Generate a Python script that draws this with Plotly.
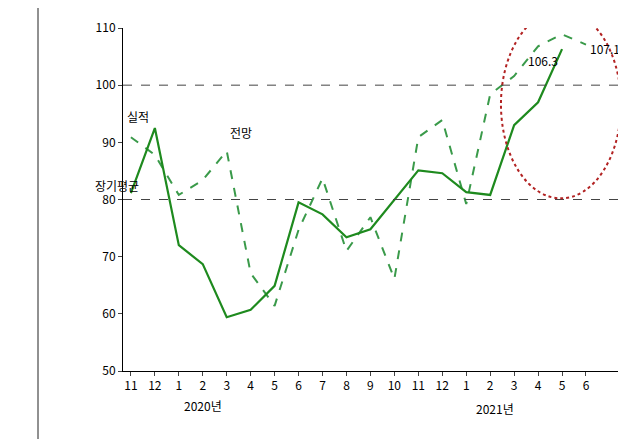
import plotly.graph_objects as go

months = ["11","12","1","2","3","4","5","6","7","8","9","10","11","12","1","2","3","4","5","6"]
actual = [81.1,92.5,72.0,68.7,59.4,60.7,64.9,79.5,77.4,73.4,74.8,79.9,85.1,84.6,81.3,80.8,93.0,97.0,106.3]
outlook = [90.9,87.8,80.8,83.4,88.5,67.1,61.4,74.7,83.7,71.0,76.9,66.1,90.9,93.9,79.2,98.4,101.6,106.8,108.9,107.1]
yticks = [50,60,70,80,90,100,110]
xs = list(range(len(months)))

F = "Noto Sans CJK KR, DejaVu Sans"
fig = go.Figure()
fig.add_trace(go.Scatter(x=xs, y=outlook, mode="lines", line=dict(color="#3a9a4a", width=2, dash="dash"), showlegend=False))
fig.add_trace(go.Scatter(x=xs[:len(actual)], y=actual, mode="lines", line=dict(color="#1e8a1e", width=2.2), showlegend=False))

for v in (80, 100):
    fig.add_shape(type="line", x0=-0.33, x1=20.42, y0=v, y1=v, line=dict(color="#444", width=1, dash="dash"))
fig.add_shape(type="circle", x0=15.45, x1=20.46, y0=80.2, y1=113.1, line=dict(color="#b22222", width=2, dash="dot"))
for px in (-0.171, 1.0):
    fig.add_shape(type="line", xref="paper", yref="paper", x0=px, x1=px, y0=-0.26, y1=1.06, line=dict(color="#222", width=1))

ann = [(0.3,94.5,"실적"),(4.6,91.8,"전망"),(17.2,104.3,"106.3"),(19.8,106.5,"107.1")]
for x,y,t in ann:
    fig.add_annotation(x=x, y=y, text=t, showarrow=False, font=dict(size=12, color="#000", family=F))
fig.add_annotation(x=-0.06, y=82.5, xref="paper", text="장기평균", showarrow=False, font=dict(size=12, family=F))
fig.add_annotation(x=3.0, y=-0.13, yref="paper", text="2020년", showarrow=False, font=dict(size=12, family=F))
fig.add_annotation(x=15.2, y=-0.14, yref="paper", text="2021년", showarrow=False, font=dict(size=12, family=F))

fig.update_layout(width=626, height=439, margin=dict(l=115, r=14, t=20, b=76, autoexpand=False),
                  plot_bgcolor="white", paper_bgcolor="white", font=dict(family=F, size=12, color="#000"))
fig.update_xaxes(range=[-0.33, 20.42], tickvals=xs, ticktext=months, showgrid=False, showline=True,
                 linecolor="#000", ticks="outside", ticklen=4, zeroline=False, automargin=False)
fig.update_yaxes(range=[50, 110], tickvals=yticks, showgrid=False, showline=True, linecolor="#000",
                 ticks="outside", ticklen=4, zeroline=False, automargin=False)
fig.write_html("out.html", config={"displayModeBar": False})
